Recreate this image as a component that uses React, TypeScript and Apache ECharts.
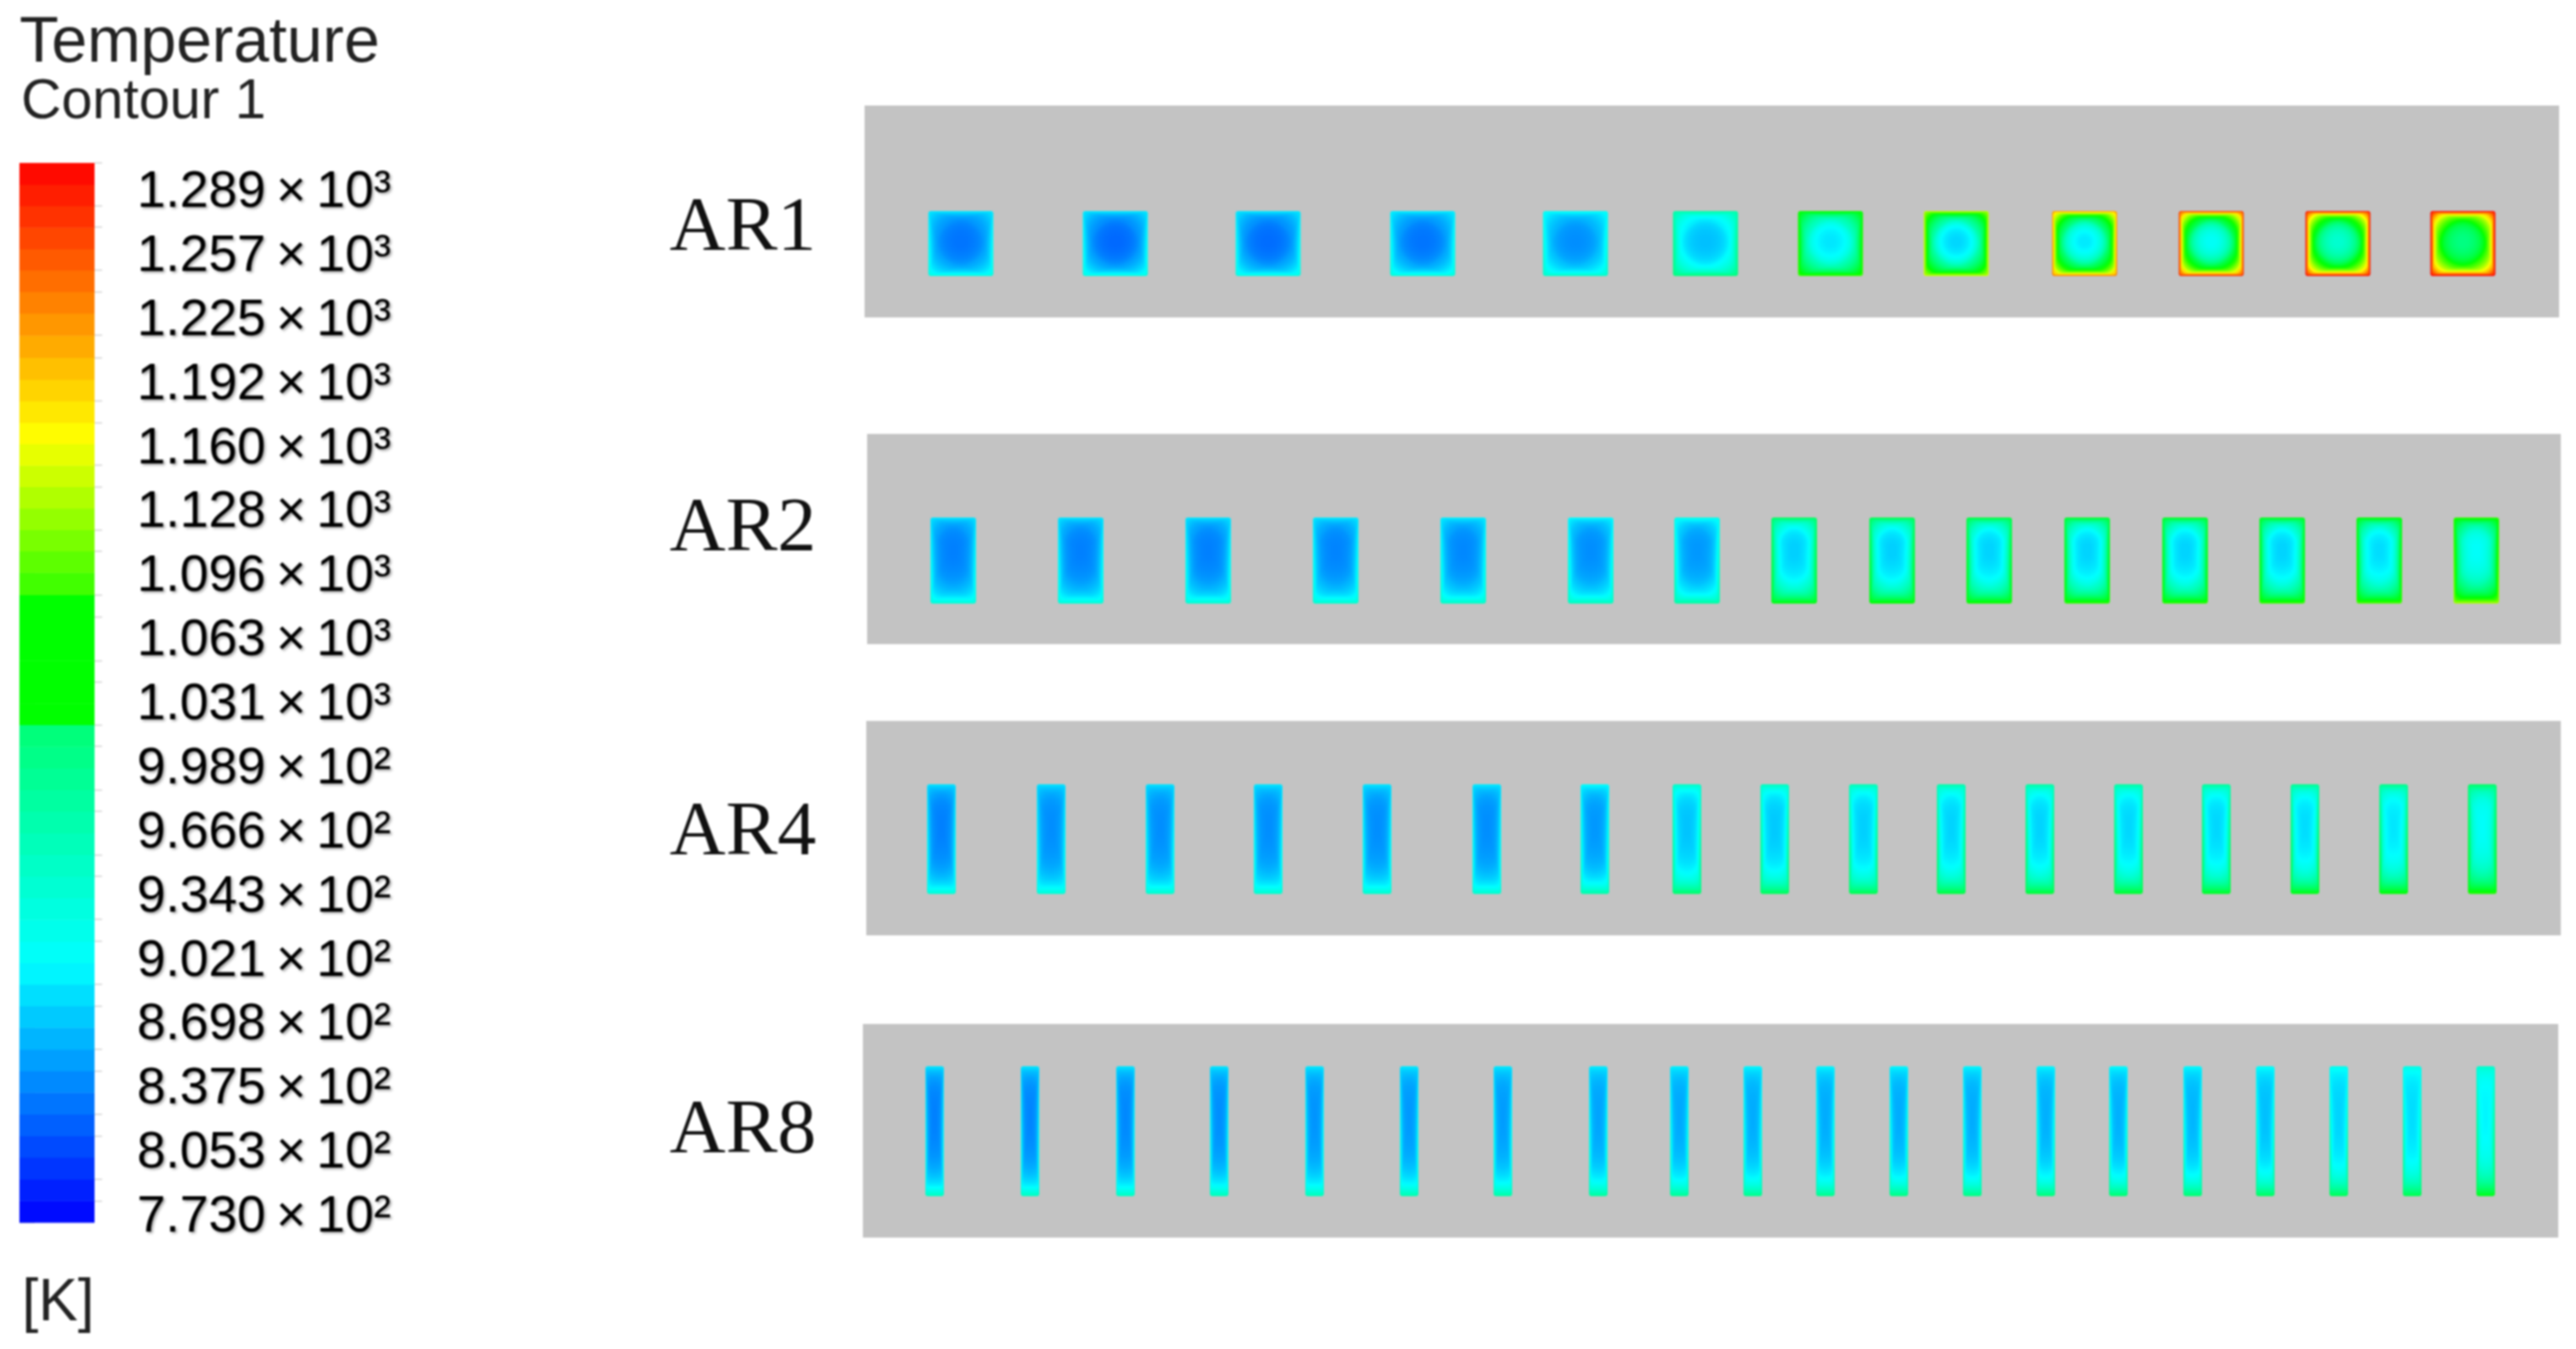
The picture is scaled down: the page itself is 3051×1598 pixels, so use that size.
import React, { useEffect, useRef } from "react";
import * as echarts from "echarts";

// Colour bar tick labels, top to bottom
const tickLabels = [
  "1.289\u2009×\u200910³", "1.257\u2009×\u200910³", "1.225\u2009×\u200910³", "1.192\u2009×\u200910³",
  "1.160\u2009×\u200910³", "1.128\u2009×\u200910³", "1.096\u2009×\u200910³", "1.063\u2009×\u200910³",
  "1.031\u2009×\u200910³", "9.989\u2009×\u200910²", "9.666\u2009×\u200910²", "9.343\u2009×\u200910²",
  "9.021\u2009×\u200910²", "8.698\u2009×\u200910²", "8.375\u2009×\u200910²", "8.053\u2009×\u200910²",
  "7.730\u2009×\u200910²",
];
const majorTemps = [773, 805.3, 837.5, 869.8, 902.1, 934.3, 966.6, 998.9, 1031, 1063, 1096, 1128, 1160, 1192, 1225, 1257, 1289];
const bandEdges = [
  773, 783.8, 794.5, 805.3, 816, 826.8, 837.5, 848.3, 859, 869.8, 880.6, 891.3, 902.1, 912.8, 923.6, 934.3,
  945.1, 955.8, 966.6, 977.4, 988.1, 998.9, 1009.6, 1020.4, 1031, 1041.7, 1052.4, 1063, 1074, 1085, 1096,
  1106.7, 1117.4, 1128, 1138.7, 1149.4, 1160, 1170.7, 1181.4, 1192, 1203, 1214, 1225, 1235.7, 1246.4, 1257,
  1267.7, 1278.4, 1289, 1299.7,
];
const barStops: [number, number[]][] = [
  [773, [0, 0, 255]], [902, [0, 255, 255]], [1018, [0, 255, 120]], [1020, [0, 255, 0]],
  [1086, [0, 255, 0]], [1090, [64, 255, 0]], [1164, [255, 255, 0]], [1299.7, [255, 0, 0]],
];
const fieldStops: [number, number[]][] = [
  [773, [0, 0, 255]], [902, [0, 255, 255]], [1050, [0, 255, 0]], [1164, [255, 255, 0]], [1299.7, [255, 0, 0]],
];

// Row names
const rowNames = ["AR1", "AR2", "AR4", "AR8"];

// Each channel: along-panel position, wall temperature top, wall temperature bottom, core temperature
const ar1Pos = [114, 297, 478, 661, 842, 996, 1144, 1293, 1445, 1595, 1745, 1893];
const ar1Top = [892, 892, 892, 896, 908, 955, 1055, 1130, 1215, 1265, 1288, 1298];
const ar1Bottom = [920, 920, 920, 925, 935, 980, 1075, 1140, 1230, 1275, 1292, 1299];
const ar1Core = [832, 826, 828, 832, 845, 870, 890, 882, 892, 907, 930, 975];

const ar2Pos = [102, 253, 404, 555, 706, 857, 983, 1098, 1214, 1329, 1445, 1561, 1676, 1791, 1906];
const ar2Top = [890, 890, 890, 892, 895, 902, 915, 995, 1005, 1015, 1025, 1030, 1035, 1050, 1070];
const ar2Bottom = [925, 925, 928, 930, 935, 940, 955, 1040, 1050, 1055, 1065, 1065, 1070, 1080, 1120];
const ar2Core = [838, 838, 838, 840, 842, 845, 850, 878, 878, 880, 880, 880, 880, 885, 905];

const ar4Pos = [89, 219, 348, 476, 605, 735, 863, 972, 1076, 1181, 1285, 1390, 1495, 1599, 1704, 1809, 1914];
const ar4Top = [888, 888, 888, 890, 890, 892, 905, 935, 940, 945, 950, 955, 955, 960, 965, 970, 990];
const ar4Bottom = [925, 925, 930, 930, 930, 930, 950, 985, 995, 1000, 1010, 1015, 1020, 1025, 1035, 1045, 1060];
const ar4Core = [838, 845, 845, 845, 845, 845, 850, 872, 875, 878, 880, 880, 882, 882, 885, 890, 905];

const ar8Pos = [85, 198, 311, 422, 535, 647, 758, 871, 967, 1054, 1140, 1227, 1314, 1401, 1487, 1575, 1661, 1748, 1835, 1922];
const ar8Top = [888, 888, 888, 888, 890, 890, 890, 892, 895, 898, 898, 898, 898, 898, 900, 900, 905, 910, 915, 930];
const ar8Bottom = [935, 935, 935, 940, 940, 945, 950, 955, 960, 965, 965, 970, 970, 975, 980, 980, 990, 995, 1000, 1030];
const ar8Core = [838, 840, 842, 845, 848, 850, 852, 856, 858, 860, 860, 860, 860, 862, 862, 865, 870, 880, 885, 898];

const rowPos = [ar1Pos, ar2Pos, ar4Pos, ar8Pos];
const rowTop = [ar1Top, ar2Top, ar4Top, ar8Top];
const rowBottom = [ar1Bottom, ar2Bottom, ar4Bottom, ar8Bottom];
const rowCore = [ar1Core, ar2Core, ar4Core, ar8Core];

function tempColour(t: number, s: [number, number[]][]): string {
  if (t <= s[0][0]) return `rgb(${s[0][1].join(",")})`;
  for (let i = 1; i < s.length; i++) {
    if (t <= s[i][0]) {
      const f = (t - s[i - 1][0]) / (s[i][0] - s[i - 1][0]);
      const c = s[i - 1][1].map((v, j) => Math.round(v + (s[i][1][j] - v) * f));
      return `rgb(${c.join(",")})`;
    }
  }
  return `rgb(${s[s.length - 1][1].join(",")})`;
}

const panels = [
  { left: 1024, top: 125, width: 2007, height: 251, labelY: 296, cw: 77, ch: 77, cy: 163.5 },
  { left: 1027, top: 514, width: 2006, height: 249, labelY: 652, cw: 54, ch: 102, cy: 150 },
  { left: 1026, top: 854, width: 2007, height: 254, labelY: 1012, cw: 34, ch: 130, cy: 140 },
  { left: 1022, top: 1213, width: 2008, height: 253, labelY: 1365, cw: 22, ch: 154, cy: 127 },
];
const LAYERS = 30;

function channelItem(row: number) {
  const p = panels[row];
  return (_: any, api: any) => {
    const pos = api.value(0);
    const top = api.value(1);
    const bottom = api.value(2);
    const core = api.value(3);
    const c = api.coord([pos, p.cy]);
    const sz = api.size([p.cw, p.ch]);
    const w = sz[0];
    const h = sz[1];
    const shift = row === 0 ? 0.03 : 0.12;
    const children: any[] = [];
    for (let k = 0; k < LAYERS; k++) {
      const t = k / (LAYERS - 1);
      const f = 0.75 * Math.pow(1 - t, 5) + 0.25 * Math.pow(1 - t, 1.5);
      const g = 0.7 * Math.pow(1 - t, 5) + 0.3 * Math.pow(1 - t, 1.5);
      const tt = core + (top - core) * f;
      const tb = core + (bottom - core) * g;
      const lw = w * (1 - 0.88 * t);
      const lh = h * (1 - 0.88 * t);
      const r = Math.max(3, Math.min(lw, lh) * 0.5 * Math.min(1, t * 3));
      const stops = [0, 0.25, 0.5, 0.75, 1].map((o) => ({ offset: o, color: tempColour(tt + (tb - tt) * o, fieldStops) }));
      children.push({
        type: "rect",
        shape: { x: c[0] - lw / 2, y: c[1] - lh / 2 - shift * h * t, width: lw, height: lh, r },
        style: { fill: new echarts.graphic.LinearGradient(0, 0, 0, 1, stops) },
      });
    }
    return { type: "group", children };
  };
}

const textStyle = { textShadowColor: "rgba(0,0,0,0.35)", textShadowBlur: 3, textShadowOffsetX: 2, textShadowOffsetY: 2 };

export default function App() {
  const ref = useRef<HTMLDivElement>(null);
  useEffect(() => {
    const chart = echarts.init(ref.current!, undefined, { renderer: "svg" });
    const minorTemps = bandEdges.filter((e) => !majorTemps.includes(e));
    const rowGrids = panels.map((p) => ({
      left: p.left, top: p.top, width: p.width, height: p.height,
      show: true, backgroundColor: "#c3c3c3", borderWidth: 0,
    }));
    const hidden = { show: false };
    chart.setOption({
      animation: false,
      backgroundColor: "#ffffff",
      grid: [
        ...rowGrids,
        { left: 23, top: 193, width: 89, height: 1255, show: false },
        { left: 463, top: 224, width: 1, height: 1214, show: false },
      ],
      xAxis: [
        ...panels.map((p, i) => ({ type: "value", gridIndex: i, min: 0, max: p.width, ...hidden })),
        { type: "value", gridIndex: 4, min: 0, max: 1, ...hidden },
        { type: "value", gridIndex: 5, min: 0, max: 1, ...hidden },
      ],
      yAxis: [
        ...panels.map((p, i) => ({ type: "value", gridIndex: i, min: 0, max: p.height, inverse: true, ...hidden })),
        {
          type: "value", gridIndex: 4, min: 773, max: 1299.7, position: "right",
          axisLine: { show: false }, splitLine: { show: false }, axisLabel: { show: false },
          axisTick: { show: true, length: 18, customValues: majorTemps, lineStyle: { color: "#b5b5b5", width: 1.5 } },
        },
        {
          type: "value", gridIndex: 4, min: 773, max: 1299.7, position: "right",
          axisLine: { show: false }, splitLine: { show: false }, axisLabel: { show: false },
          axisTick: { show: true, length: 9, customValues: minorTemps, lineStyle: { color: "#d5d5d5", width: 1.5 } },
        },
        {
          type: "category", gridIndex: 5, data: tickLabels, inverse: true, boundaryGap: false, position: "left",
          axisLine: { show: false }, axisTick: { show: false }, splitLine: { show: false },
          axisLabel: { show: true, interval: 0, margin: 0, fontFamily: "Liberation Sans", fontSize: 61, color: "#000", ...textStyle },
        },
      ],
      series: [
        ...panels.map((_, i) => ({
          type: "custom", xAxisIndex: i, yAxisIndex: i, silent: true, clip: false,
          renderItem: channelItem(i),
          data: rowPos[i].map((x, j) => [x, rowTop[i][j], rowBottom[i][j], rowCore[i][j]]),
        })),
        {
          type: "custom", xAxisIndex: 4, yAxisIndex: 4, silent: true,
          data: bandEdges.slice(0, -1).map((lo, i) => [lo, bandEdges[i + 1]]),
          renderItem: (_: any, api: any) => {
            const lo = api.value(0);
            const hi = api.value(1);
            const a = api.coord([0, hi]);
            const b = api.coord([1, lo]);
            return {
              type: "rect",
              shape: { x: a[0], y: a[1], width: b[0] - a[0], height: b[1] - a[1] + 0.5 },
              style: { fill: tempColour((lo + hi) / 2, barStops) },
            };
          },
        },
      ],
      graphic: [
        { type: "text", x: 23, y: 46, style: { text: "Temperature", font: "76px 'Liberation Sans'", fill: "#222", verticalAlign: "middle", lineHeight: 60 } },
        { type: "text", x: 25, y: 117, style: { text: "Contour 1", font: "66px 'Liberation Sans'", fill: "#222", verticalAlign: "middle", lineHeight: 60 } },
        { type: "text", x: 26, y: 1540, style: { text: "[K]", font: "70px 'Liberation Sans'", fill: "#222", verticalAlign: "middle" } },
        ...rowNames.map((name, i) => ({
          type: "text", x: 793, y: panels[i].labelY - 31,
          style: { text: name, font: "92px 'Liberation Serif'", fill: "#111", verticalAlign: "middle" },
        })),
      ],
    });
    return () => chart.dispose();
  }, []);
  return (
    <div
      ref={ref}
      style={{ position: "absolute", left: 0, top: 0, width: 3051, height: 1598, filter: "blur(1px)" }}
    />
  );
}
